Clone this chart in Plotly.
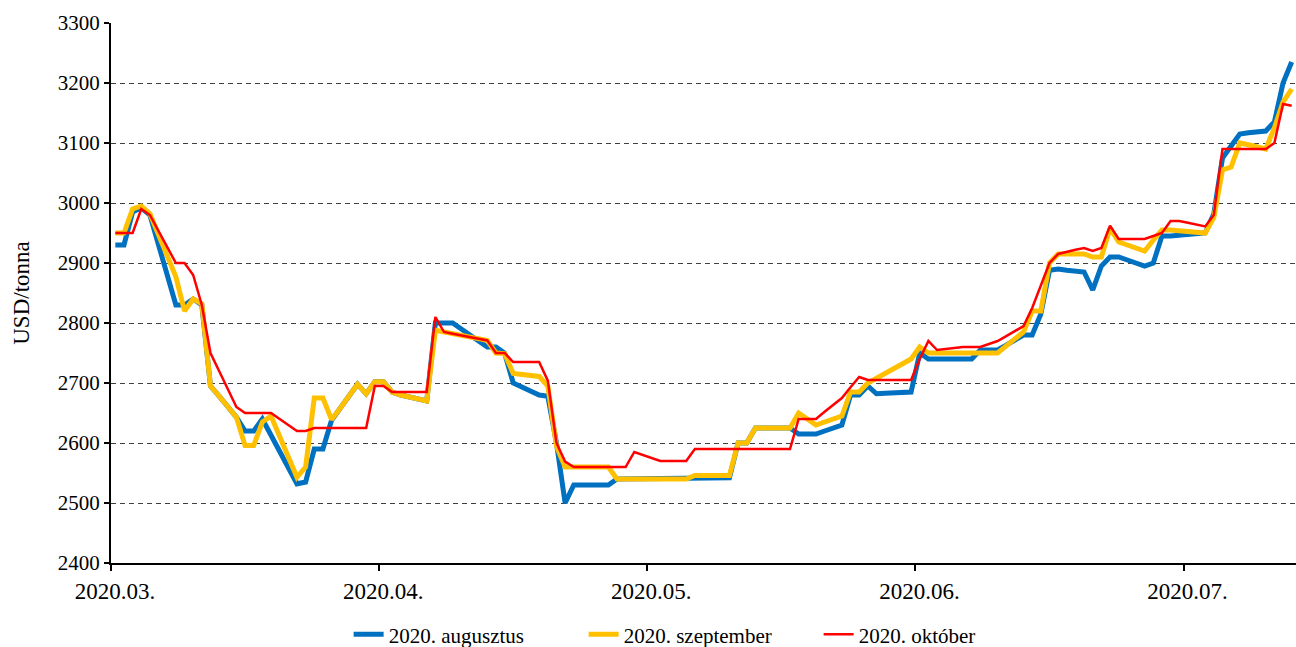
import pandas as pd
import plotly.graph_objects as go

# Daily quotes, one value per calendar day starting 2020-03-01
start_date = "2020-03-01"
n_days = 137

aug = [
    2930, 2930, 2985, 2992, 2980, 2930, 2880, 2830, 2830, 2840,
    2830, 2695, 2678, 2660, 2643, 2620, 2620, 2640, 2613, 2586,
    2559, 2532, 2535, 2590, 2590, 2638, 2658, 2678, 2698, 2682,
    2702, 2702, 2685, 2680, 2677, 2674, 2670, 2800, 2800, 2800,
    2790, 2780, 2770, 2760, 2760, 2750, 2700, 2693, 2686, 2680,
    2678, 2600, 2500, 2530, 2530, 2530, 2530, 2530, 2540, 2540,
    2540, 2540, 2540, 2540, 2540, 2540, 2540, 2542, 2542, 2542,
    2542, 2542, 2600, 2600, 2625, 2625, 2625, 2625, 2625, 2615,
    2615, 2615, 2620, 2625, 2630, 2680, 2680, 2695, 2682, 2683,
    2684, 2685, 2685, 2750, 2740, 2740, 2740, 2740, 2740, 2740,
    2755, 2755, 2755, 2763, 2771, 2780, 2780, 2815, 2888, 2890,
    2888, 2887, 2885, 2855, 2895, 2910, 2910, 2905, 2900, 2895,
    2900, 2945, 2945, 2946, 2947, 2948, 2950, 2982, 3075, 3095,
    3115, 3117, 3118, 3120, 3135, 3200, 3235,
]

sep = [
    2950, 2950, 2990, 2995, 2982, 2946, 2911, 2877, 2820, 2840,
    2832, 2695, 2678, 2660, 2643, 2596, 2596, 2635, 2645, 2611,
    2577, 2543, 2560, 2675, 2675, 2639, 2658, 2678, 2698, 2682,
    2702, 2702, 2685, 2680, 2677, 2674, 2670, 2788, 2785, 2782,
    2779, 2777, 2774, 2771, 2750, 2749, 2716, 2714, 2712, 2711,
    2695, 2595, 2560, 2560, 2560, 2560, 2560, 2560, 2540, 2540,
    2540, 2540, 2540, 2540, 2540, 2540, 2540, 2546, 2546, 2546,
    2546, 2546, 2600, 2600, 2625, 2625, 2625, 2625, 2625, 2650,
    2640, 2630, 2635, 2640, 2645, 2685, 2685, 2700, 2708, 2716,
    2724, 2732, 2740, 2760, 2750, 2750, 2750, 2750, 2750, 2750,
    2750, 2750, 2750, 2762, 2773, 2785, 2820, 2820, 2900, 2915,
    2915, 2915, 2915, 2910, 2910, 2958, 2935, 2930, 2925, 2920,
    2938, 2955, 2955, 2954, 2953, 2952, 2950, 2976, 3055, 3060,
    3100, 3097, 3094, 3090, 3125, 3168, 3190,
]

okt = [
    2950, 2950, 2950, 2990, 2980, 2953, 2927, 2900, 2900, 2880,
    2830, 2750, 2720, 2690, 2660, 2650, 2650, 2650, 2650, 2640,
    2630, 2620, 2620, 2625, 2625, 2625, 2625, 2625, 2625, 2625,
    2695, 2695, 2685, 2685, 2685, 2685, 2685, 2810, 2785, 2782,
    2779, 2777, 2774, 2771, 2750, 2750, 2735, 2735, 2735, 2735,
    2704, 2600, 2569, 2560, 2560, 2560, 2560, 2560, 2560, 2560,
    2585, 2580, 2575, 2570, 2570, 2570, 2570, 2590, 2590, 2590,
    2590, 2590, 2590, 2590, 2590, 2590, 2590, 2590, 2590, 2640,
    2640, 2640, 2652, 2663, 2675, 2693, 2710, 2705, 2705, 2705,
    2705, 2705, 2705, 2740, 2770, 2755, 2757, 2758, 2760, 2760,
    2760, 2765, 2770, 2778, 2787, 2795, 2825, 2862, 2900, 2915,
    2919, 2922, 2925, 2920, 2925, 2962, 2940, 2940, 2940, 2940,
    2945, 2950, 2970, 2970, 2967, 2964, 2961, 2980, 3090, 3090,
    3090, 3090, 3090, 3090, 3100, 3165, 3162,
]

series_names = ["2020. augusztus", "2020. szeptember", "2020. október"]

# Month labels, one every 31 days
tick_labels = ["2020.03.", "2020.04.", "2020.05.", "2020.06.", "2020.07."]

dates = pd.date_range(start_date, periods=n_days, freq="D")
half_day = pd.Timedelta(hours=12)
tick_pos = [dates[0] - half_day + pd.Timedelta(days=31 * i) for i in range(len(tick_labels))]

FONT = "Liberation Serif"

fig = go.Figure()
styles = [("#0070C0", 5), ("#FFC000", 5), ("#FF0000", 2.5)]
for name, vals, (col, w) in zip(series_names, [aug, sep, okt], styles):
    fig.add_trace(go.Scatter(
        x=dates, y=vals, name=name, mode="lines",
        line=dict(color=col, width=w),
    ))

fig.update_layout(
    width=1296, height=647,
    margin=dict(l=111, r=0, t=23, b=84),
    paper_bgcolor="white", plot_bgcolor="white",
    font=dict(family=FONT, size=20, color="black"),
    showlegend=True,
    legend=dict(
        orientation="h", xref="container", yref="container",
        x=0.541, xanchor="center", y=0.019, yanchor="middle",
        font=dict(family=FONT, size=21, color="black"),
        bgcolor="rgba(0,0,0,0)",
        entrywidth=190,
    ),
)

fig.update_xaxes(
    type="date",
    range=[dates[0] - half_day, dates[-1] + half_day],
    tickmode="array", tickvals=tick_pos, ticktext=tick_labels,
    ticklabelshift=4,
    showline=True, linecolor="black", linewidth=2,
    ticks="outside", ticklen=6, tickwidth=1.5, tickcolor="black",
    showgrid=False, zeroline=False,
    tickfont=dict(family=FONT, size=23, color="black"),
)

fig.update_yaxes(
    range=[2400, 3300], dtick=100, tick0=2400,
    showline=True, linecolor="black", linewidth=2,
    ticks="outside", ticklen=5, tickwidth=1.5, tickcolor="black",
    showgrid=True, gridcolor="#404040", gridwidth=1.3, griddash="5px,4px",
    zeroline=False,
    tickfont=dict(family=FONT, size=21, color="black"),
    title=dict(text="USD/tonna", standoff=22,
               font=dict(family=FONT, size=23, color="black")),
)

fig.write_html("out.html")
